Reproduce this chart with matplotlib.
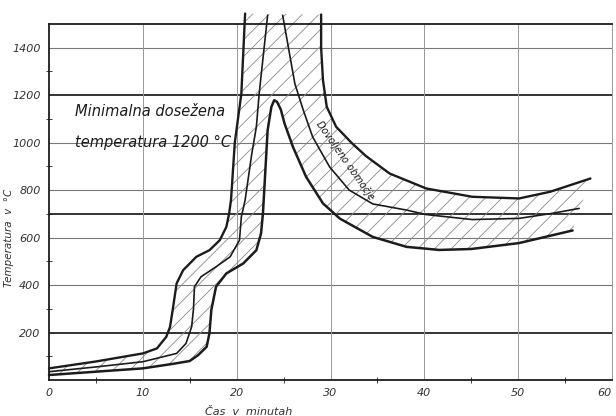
import numpy as np
import matplotlib
matplotlib.use("Agg")
import matplotlib.pyplot as plt

# readings: time [min], temperature [°C]
# left boundary of heating band
a_t = [0, 5, 10, 11.5, 12.5, 12.9, 13.2, 13.6, 14.3, 15.7, 17.1, 18.2, 18.9, 19.2, 19.4, 19.8, 20.5, 20.9]
a_T = [49, 78, 112, 133, 182, 224, 300, 407, 463, 519, 547, 589, 645, 702, 760, 1000, 1207, 1544]

# middle heating line
b_t = [0, 5, 10, 13.6, 14.6, 15.2, 15.4, 15.5, 16.2, 17.8, 19.3, 20.3, 20.5, 20.9, 21.6, 22.1, 22.4, 23.3]
b_T = [35, 55, 77, 112, 154, 224, 300, 393, 435, 477, 519, 589, 688, 758, 950, 1067, 1207, 1537]

# right boundary of heating band -> peak -> lower boundary of cooling band
c_t = [0, 5, 10, 13.2, 15.0, 15.9, 16.8, 17.1, 17.3, 17.8, 18.9, 20.7, 22.1, 22.6, 22.8, 23.0, 23.3, 23.7, 24.0,
       24.3, 24.7, 25.1, 26.0, 27.4, 29.2, 31.0, 34.5, 38.1, 41.6, 45.0, 50.1, 55.8]
c_T = [21, 35, 49, 68, 80, 105, 140, 197, 295, 393, 449, 491, 547, 618, 702, 842, 1053, 1151, 1179,
       1172, 1140, 1081, 982, 856, 744, 680, 603, 561, 548, 552, 577, 630]

# middle cooling line
e_t = [24.9, 26.2, 27.1, 28.1, 29.9, 32.0, 34.5, 38.1, 40.2, 45.1, 50.1, 53.6, 56.5]
e_T = [1537, 1249, 1137, 1024, 898, 800, 742, 716, 697, 676, 681, 702, 723]

# upper boundary of cooling band
d_t = [29.0, 29.0, 29.2, 29.6, 30.6, 32.3, 33.8, 36.3, 40.2, 45.1, 50.1, 53.4, 57.7]
d_T = [1540, 1400, 1263, 1151, 1067, 997, 943, 870, 807, 772, 765, 793, 849]

x_ticks = [0, 10, 20, 30, 40, 50, 60]
y_ticks = [200, 400, 600, 800, 1000, 1200, 1400]

ink = "#1c1c1c"
plt.rcParams["hatch.linewidth"] = 0.6
plt.rcParams["hatch.color"] = "#8a8a8a"

fig = plt.figure(figsize=(6.16, 4.16), dpi=100)
ax = fig.add_axes([49 / 616, 1 - 380 / 416, 563 / 616, 356 / 416])
ax.set_xlim(0, 60)
ax.set_ylim(0, 1500)

# grid as in the drawing: heavier lines at 200, 700 and 1200
for v in y_ticks:
    heavy = v in (200, 1200)
    ax.axhline(v, color="#333" if heavy else "#777", lw=1.4 if heavy else 0.8, zorder=1)
ax.axhline(700, color="#333", lw=1.4, zorder=1)
for v in x_ticks[1:-1]:
    ax.axvline(v, color="#999", lw=0.7, zorder=1)

# hatched permitted region
poly_t = a_t + d_t + c_t[::-1]
poly_T = a_T + d_T + c_T[::-1]
ax.fill(poly_t, poly_T, facecolor="none", edgecolor="#8a8a8a", hatch="//", lw=0, zorder=2, clip_on=False)

for xs, ys, w in [(a_t, a_T, 1.7), (b_t, b_T, 1.2), (c_t, c_T, 1.8), (e_t, e_T, 1.2), (d_t, d_T, 1.7)]:
    ax.plot(xs, ys, color=ink, lw=w, solid_capstyle="round", solid_joinstyle="round", zorder=3, clip_on=False)

ax.text(2.8, 1133, "Minimalna dosežena", fontsize=10.5, style="italic", color=ink, va="center")
ax.text(2.8, 1002, "temperatura 1200 °C", fontsize=10.5, style="italic", color=ink, va="center")
ax.text(31.6, 925, "Dovoljeno območje", fontsize=7, style="italic", color=ink,
        rotation=-55, ha="center", va="center")

for s in ["left", "bottom", "top"]:
    ax.spines[s].set_color(ink)
    ax.spines[s].set_linewidth(1.3)
ax.spines["right"].set_color("#999")
ax.spines["right"].set_linewidth(0.7)

ax.set_xticks(x_ticks)
ax.set_yticks(y_ticks)
ax.set_xticks(np.arange(5, 60, 10), minor=True)
ax.set_yticks(np.arange(100, 1500, 200), minor=True)
ax.tick_params(which="major", length=0, pad=6, labelsize=8, labelcolor="#333")
ax.tick_params(which="minor", direction="inout", length=4, color=ink)
for lab in ax.get_xticklabels() + ax.get_yticklabels():
    lab.set_fontstyle("italic")
ax.get_xticklabels()[-1].set_horizontalalignment("right")

ax.set_xlabel("Čas  v  minutah", fontsize=8, style="italic", color="#333", labelpad=2)
ax.xaxis.set_label_coords(0.355, -0.075)
ax.set_ylabel("Temperatura  v  °C", fontsize=7.5, style="italic", color="#333")
ax.yaxis.set_label_coords(-0.062, 0.4)

fig.savefig("out.png", dpi=100, facecolor="white")
